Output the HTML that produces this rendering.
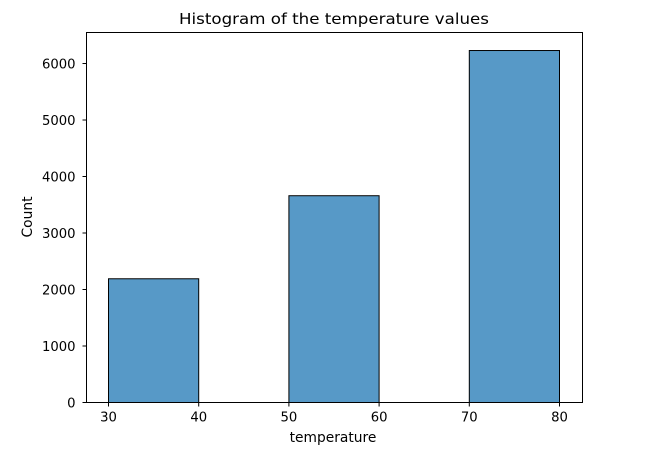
<!DOCTYPE html>
<html><head><meta charset="utf-8"><style>
body{margin:0;background:#fff;}
svg text{font-family:"DejaVu Sans","Liberation Sans",sans-serif;fill:#000;}
</style></head><body>
<svg id="chart" width="654" height="458" xmlns="http://www.w3.org/2000/svg">
<text x="334" y="24" font-size="15.5" text-anchor="middle" textLength="310" lengthAdjust="spacingAndGlyphs">Histogram of the temperature values</text>
<g id="bars"></g>
<g id="xticks"></g>
<g id="yticks"></g>
<rect x="86.5" y="32.5" width="496" height="370" fill="none" stroke="#000" stroke-width="1"/>
<text x="333" y="442" font-size="13.8" text-anchor="middle">temperature</text>
<text x="32" y="217" font-size="13.8" text-anchor="middle" transform="rotate(-90 32 217)">Count</text>
</svg>
<script>
const binStarts=[30,40,50,60,70];
const binWidth=10;
const counts=[2190,0,3660,0,6230];
const xTicks=[30,40,50,60,70,80];
const yTicks=[0,1000,2000,3000,4000,5000,6000];
const X0=86.5,X1=582.5,Y0=402.5,Y1=32.5;
const xMin=27.56,xMax=82.55,yMin=0,yMax=6549;
function sx(v){return X0+(v-xMin)/(xMax-xMin)*(X1-X0);}
function sy(v){return Y0-(v-yMin)/(yMax-yMin)*(Y0-Y1);}
const NS="http://www.w3.org/2000/svg";
const bars=document.getElementById('bars');
binStarts.forEach((b,i)=>{
  if(counts[i]<=0)return;
  const r=document.createElementNS(NS,'rect');
  
  
  const x=sx(b),x2=sx(b+binWidth),y=sy(counts[i]);
  r.setAttribute('x',x);r.setAttribute('y',y);
  r.setAttribute('width',x2-x);r.setAttribute('height',sy(0)-y);
  r.setAttribute('fill','#5799c7');r.setAttribute('stroke','#000');r.setAttribute('stroke-width','1');
  bars.appendChild(r);
});
const xt=document.getElementById('xticks');
xTicks.forEach(t=>{
  const x=sx(t);
  const l=document.createElementNS(NS,'line');
  
  
  l.setAttribute('x1',x);l.setAttribute('x2',x);l.setAttribute('y1',Y0);l.setAttribute('y2',Y0+4);
  l.setAttribute('stroke','#000');xt.appendChild(l);
  const tx=document.createElementNS(NS,'text');
  
  
  tx.setAttribute('x',x);tx.setAttribute('y',Y0+19);tx.setAttribute('font-size','13.2');
  tx.setAttribute('text-anchor','middle');tx.textContent=t;xt.appendChild(tx);
});
const yt=document.getElementById('yticks');
yTicks.forEach(t=>{
  const y=sy(t);
  const l=document.createElementNS(NS,'line');
  
  
  l.setAttribute('x1',X0-4);l.setAttribute('x2',X0);l.setAttribute('y1',y);l.setAttribute('y2',y);
  l.setAttribute('stroke','#000');yt.appendChild(l);
  const tx=document.createElementNS(NS,'text');
  
  
  tx.setAttribute('x',X0-11);tx.setAttribute('y',y+4.8);tx.setAttribute('font-size','13.2');
  tx.setAttribute('text-anchor','end');tx.textContent=t;yt.appendChild(tx);
});
</script>
</body></html>
